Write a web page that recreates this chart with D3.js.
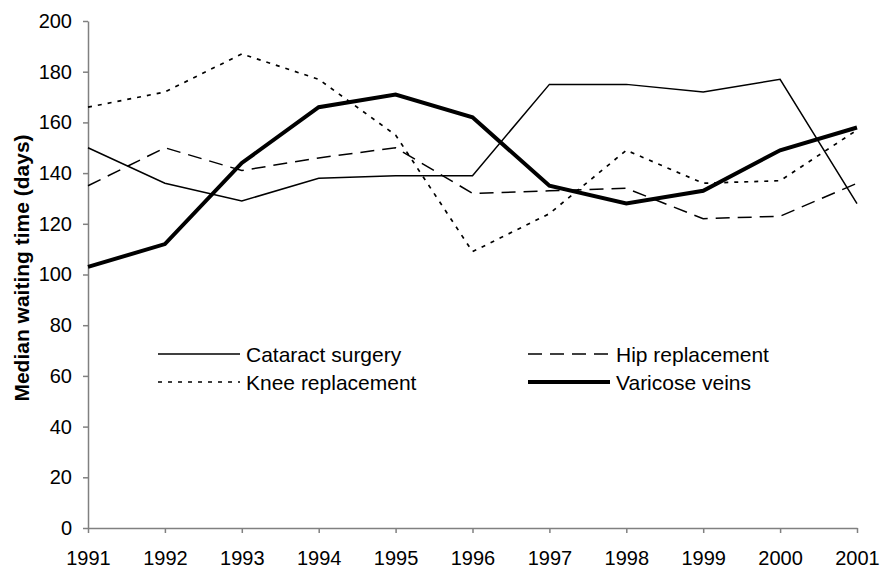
<!DOCTYPE html>
<html>
<head>
<meta charset="utf-8">
<script src="https://cdn.jsdelivr.net/npm/d3@7"></script>
<style>
  body { margin: 0; background: #fff; }
  text { font-family: "Liberation Sans", Arial, sans-serif; }
</style>
</head>
<body>
<div id="chart"></div>
<script>
// data
var years = [1991, 1992, 1993, 1994, 1995, 1996, 1997, 1998, 1999, 2000, 2001];
var cataract = [150, 136, 129, 138, 139, 139, 175, 175, 172, 177, 128];
var hip      = [135, 150, 141, 146, 150, 132, 133, 134, 122, 123, 136];
var knee     = [166, 172, 187, 177, 155, 109, 124, 149, 136, 137, 157];
var varicose = [103, 112, 144, 166, 171, 162, 135, 128, 133, 149, 158];
var yTicks = [0, 20, 40, 60, 80, 100, 120, 140, 160, 180, 200];

var series = [
  { name: "Cataract surgery", values: cataract, width: 1.5, dash: null },
  { name: "Hip replacement", values: hip, width: 1.5, dash: "14,8" },
  { name: "Knee replacement", values: knee, width: 1.7, dash: "4,6" },
  { name: "Varicose veins", values: varicose, width: 4, dash: null }
];

var svgWidth = 880, svgHeight = 569;
var margin = { top: 21, right: 23, bottom: 41, left: 88 };
var chartWidth = svgWidth - margin.left - margin.right;
var chartHeight = svgHeight - margin.top - margin.bottom;

var svg = d3.select("#chart").append("svg")
  .attr("width", svgWidth)
  .attr("height", svgHeight);

var chartGroup = svg.append("g")
  .attr("transform", `translate(${margin.left}, ${margin.top})`);

var x = d3.scalePoint().domain(years).range([0, chartWidth]);
var y = d3.scaleLinear().domain([0, 200]).range([chartHeight, 0]);

// axes
var bottomAxis = d3.axisBottom(x).tickSizeInner(5).tickSizeOuter(0).tickPadding(18);
var leftAxis = d3.axisLeft(y).tickValues(yTicks).tickSizeInner(5).tickSizeOuter(0).tickPadding(11);

var xg = chartGroup.append("g")
  .attr("transform", `translate(0, ${chartHeight})`)
  .call(bottomAxis);
var yg = chartGroup.append("g").call(leftAxis);

[xg, yg].forEach(function(g) {
  g.attr("font-size", 20).attr("font-family", "Liberation Sans, Arial, sans-serif");
  g.select(".domain").attr("stroke", "#808080").attr("stroke-width", 1.5);
  g.selectAll(".tick line").attr("stroke", "#808080").attr("stroke-width", 1.5);
  g.selectAll(".tick text").attr("fill", "#000");
});

// y axis title
svg.append("text")
  .attr("transform", "translate(29, 268) rotate(-90)")
  .attr("text-anchor", "middle")
  .attr("font-size", 21)
  .attr("font-weight", "bold")
  .text("Median waiting time (days)");

// lines
var line = d3.line()
  .x(function(d, i) { return x(years[i]); })
  .y(function(d) { return y(d); });

series.forEach(function(s) {
  chartGroup.append("path")
    .datum(s.values)
    .attr("fill", "none")
    .attr("stroke", "#000")
    .attr("stroke-width", s.width)
    .attr("stroke-dasharray", s.dash)
    .attr("stroke-linejoin", "miter")
    .attr("d", line);
});

// legend
var legendPos = [
  { lx: 158, ly: 354 }, { lx: 528, ly: 354 },
  { lx: 158, ly: 382 }, { lx: 528, ly: 382 }
];
series.forEach(function(s, i) {
  var p = legendPos[i];
  var len = 82;
  var g = svg.append("g").attr("transform", `translate(${p.lx}, ${p.ly})`);
  g.append("line")
    .attr("x1", 0).attr("x2", len)
    .attr("stroke", "#000")
    .attr("stroke-width", s.width)
    .attr("stroke-dasharray", s.dash);
  g.append("text")
    .attr("x", len + 6)
    .attr("y", 8)
    .attr("font-size", 21)
    .text(s.name);
});
</script>
</body>
</html>
